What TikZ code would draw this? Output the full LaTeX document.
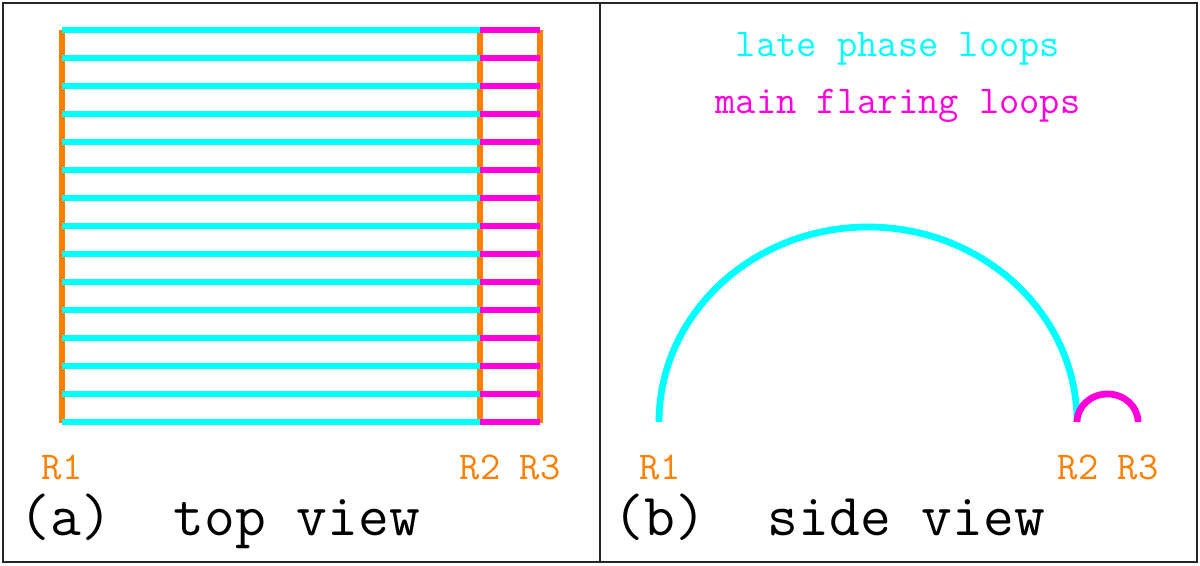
\documentclass[tikz,border=0pt]{standalone}
\usepackage{fontspec}
\usetikzlibrary{positioning}
\definecolor{latecyan}{RGB}{0,255,255}
\definecolor{flaremag}{RGB}{255,0,220}
\definecolor{footorange}{RGB}{255,128,0}

\begin{document}
\begin{tikzpicture}[x=0.025cm, y=-0.025cm,
  late/.style={latecyan, line width=4.3pt},
  flare/.style={flaremag, line width=4.3pt},
  foot/.style={footorange, line width=4.3pt},
  footlabel/.style={footorange, font=\ttfamily\fontsize{28}{28}\selectfont, anchor=base},
  panel/.style={font=\ttfamily\fontsize{42.5}{42.5}\selectfont, anchor=base west}]
% Frame
\useasboundingbox (0,0) rectangle (1200,565);
\draw[line width=1.6pt, black!85] (3,3) rectangle (1197,562);
\draw[line width=1.2pt, black!85] (600,3) -- (600,562);
% Top view: footpoint ribbons
\draw[foot] (62,30) -- (62,423);
\draw[foot] (480,30) -- (480,423);
\draw[foot] (540,30) -- (540,423);
% Top view: loops
\foreach \i in {0,...,14} {
  \draw[late] (62,30+28*\i) -- (480,30+28*\i);
  \draw[flare] (480,30+28*\i) -- (540,30+28*\i);
}
\node[footlabel] (ra1) at (62,479) {R1};
\node[footlabel] (ra2) at (480,479) {R2};
\node[footlabel] (ra3) at (540,479) {R3};
\node[panel] (capa) at (15,535) {(a)~~top view};
% Side view: loops
\draw[late, line width=4.8pt] (659,422) arc[start angle=180, end angle=360, x radius=209, y radius=195];
\draw[flare, line width=4.8pt] (1077,422) arc[start angle=180, end angle=360, x radius=30.5, y radius=28];
\node[footlabel] (rb1) at (660,479) {R1};
\node[footlabel] (rb2) at (1078,479) {R2};
\node[footlabel] (rb3) at (1138,479) {R3};
\node[panel] (capb) at (609,535) {(b)~~side view};
% Legend
\node[latecyan, font=\ttfamily\fontsize{28}{28}\selectfont, anchor=base] (leglate) at (898,57) {late phase loops};
\node[flaremag, font=\ttfamily\fontsize{28}{28}\selectfont, anchor=base] (legmain) at (898,113) {main flaring loops};
\end{tikzpicture}
\end{document}
